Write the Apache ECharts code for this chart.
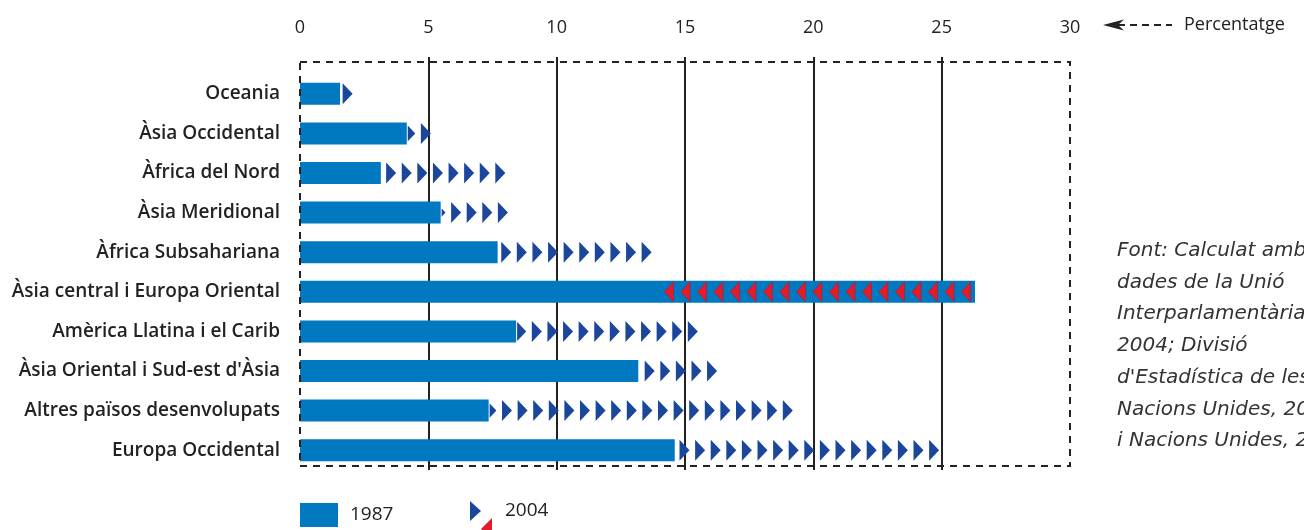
<!DOCTYPE html>
<html><head><meta charset="utf-8">
<script src="https://cdn.jsdelivr.net/npm/echarts@6/dist/echarts.min.js"></script>
<style>html,body{margin:0;padding:0;background:#fff}#c{width:1304px;height:530px}</style>
</head><body><div id="c"></div>
<script>
const categories = ['Oceania','Àsia Occidental','Àfrica del Nord','Àsia Meridional','Àfrica Subsahariana','Àsia central i Europa Oriental','Amèrica Llatina i el Carib',"Àsia Oriental i Sud-est d'Àsia",'Altres països desenvolupats','Europa Occidental'];
const values1987 = [1.56, 4.16, 3.15, 5.48, 7.7, 26.3, 8.42, 13.18, 7.35, 14.6];
const values2004 = [2.05, 5.1, 8.0, 8.1, 13.7, 14.2, 15.5, 16.25, 19.2, 24.9];
const xTickValues = [5, 10, 15, 20, 25];
const sourceLines = ['Font: Calculat amb', 'dades de la Unió', 'Interparlamentària,', '2004; Divisió', "d'Estadística de les", 'Nacions Unides, 2005', 'i Nacions Unides, 2005'];

const BAR = '#0079C1', UP = '#1A479C', DOWN = '#E01E2B', INK = '#222';
const chart = echarts.init(document.getElementById('c'), null, {renderer: 'canvas'});

function renderArrows(params, api) {
  const i = api.value(0), a = api.value(1), b = api.value(2);
  const p0 = api.coord([a, i]), p1 = api.coord([b, i]);
  const y = p0[1], h = 21, w = 10, step = 15.6;
  const children = [];
  if (b >= a) {
    for (let tip = p1[0]; tip > p0[0] + 4; tip -= step) {
      let base = tip - w;
      let pts;
      if (base >= p0[0] + 1) {
        pts = [[base, y - h / 2], [tip, y], [base, y + h / 2]];
      } else {
        const bx = p0[0] + 1, hh = (h / 2) * (tip - bx) / w;
        pts = [[bx, y - hh], [tip, y], [bx, y + hh]];
      }
      children.push({type: 'polygon', shape: {points: pts}, style: {fill: UP}});
    }
  } else {
    const wd = 9, stepd = 16.5, hd = 20;
    for (let tip = p1[0]; tip + wd <= p0[0] - 3; tip += stepd) {
      children.push({type: 'polygon', shape: {points: [[tip + wd, y - hd / 2], [tip, y], [tip + wd, y + hd / 2]]},
        style: {fill: DOWN, stroke: '#B0143C', lineWidth: 0.6}});
    }
  }
  return {type: 'group', children};
}

const option = {
  backgroundColor: '#fff',
  animation: false,
  grid: {left: 300, right: 234, top: 74, height: 396, containLabel: false},
  xAxis: {
    type: 'value', position: 'top', min: 0, max: 30, interval: 5,
    axisLine: {show: false},
    axisTick: {show: true, length: 17, customValues: xTickValues, lineStyle: {color: INK, width: 2}},
    axisLabel: {margin: 37, color: INK, fontSize: 18, fontWeight: 500, fontFamily: 'Open Sans'},
    splitLine: {show: true, lineStyle: {color: INK, width: 2}}
  },
  yAxis: {
    type: 'category', data: categories, inverse: true,
    axisLine: {show: false}, axisTick: {show: false},
    axisLabel: {margin: 20, color: INK, fontSize: 19, fontWeight: 600, fontFamily: 'Open Sans'}
  },
  series: [
    {type: 'bar', name: '1987', data: values1987, barWidth: 22, itemStyle: {color: BAR}, z: 3},
    {type: 'custom', name: '2004', z: 5, renderItem: renderArrows,
      encode: {x: [1, 2], y: 0},
      data: categories.map((c, i) => [i, values1987[i], values2004[i]])}
  ],
  graphic: [
    {type: 'rect', silent: true, z: 10, shape: {x: 300, y: 62, width: 770, height: 404},
      style: {fill: 'none', stroke: INK, lineWidth: 2, lineDash: [7, 6]}},
    {type: 'polygon', shape: {points: [[1103, 25], [1124, 19.5], [1118, 25], [1124, 30.5]]}, style: {fill: INK}},
    {type: 'line', shape: {x1: 1118, y1: 25, x2: 1172, y2: 25}, style: {stroke: INK, lineWidth: 2, lineDash: [7, 5]}},
    {type: 'text', x: 1184, y: 25, style: {text: 'Percentatge', fill: INK, fontSize: 18, fontWeight: 500, fontFamily: 'Open Sans', verticalAlign: 'middle'}},
    {type: 'rect', shape: {x: 300, y: 503, width: 38, height: 24}, style: {fill: BAR}},
    {type: 'text', x: 350, y: 515, style: {text: '1987', fill: INK, fontSize: 19, fontFamily: 'Open Sans', verticalAlign: 'middle'}},
    {type: 'polygon', shape: {points: [[470, 501], [481, 511], [470, 521]]}, style: {fill: UP}},
    {type: 'polygon', shape: {points: [[492, 518], [481, 529], [492, 540]]}, style: {fill: DOWN}},
    {type: 'text', x: 505, y: 511, style: {text: '2004', fill: INK, fontSize: 19, fontFamily: 'Open Sans', verticalAlign: 'middle'}},
    {type: 'text', x: 1117, y: 235, style: {text: sourceLines.join('\n'), fill: '#333', fontSize: 20, fontStyle: 'italic',
      fontFamily: 'DejaVu Sans', lineHeight: 31.7, verticalAlign: 'top'}}
  ]
};
chart.setOption(option);
</script>
</body></html>
